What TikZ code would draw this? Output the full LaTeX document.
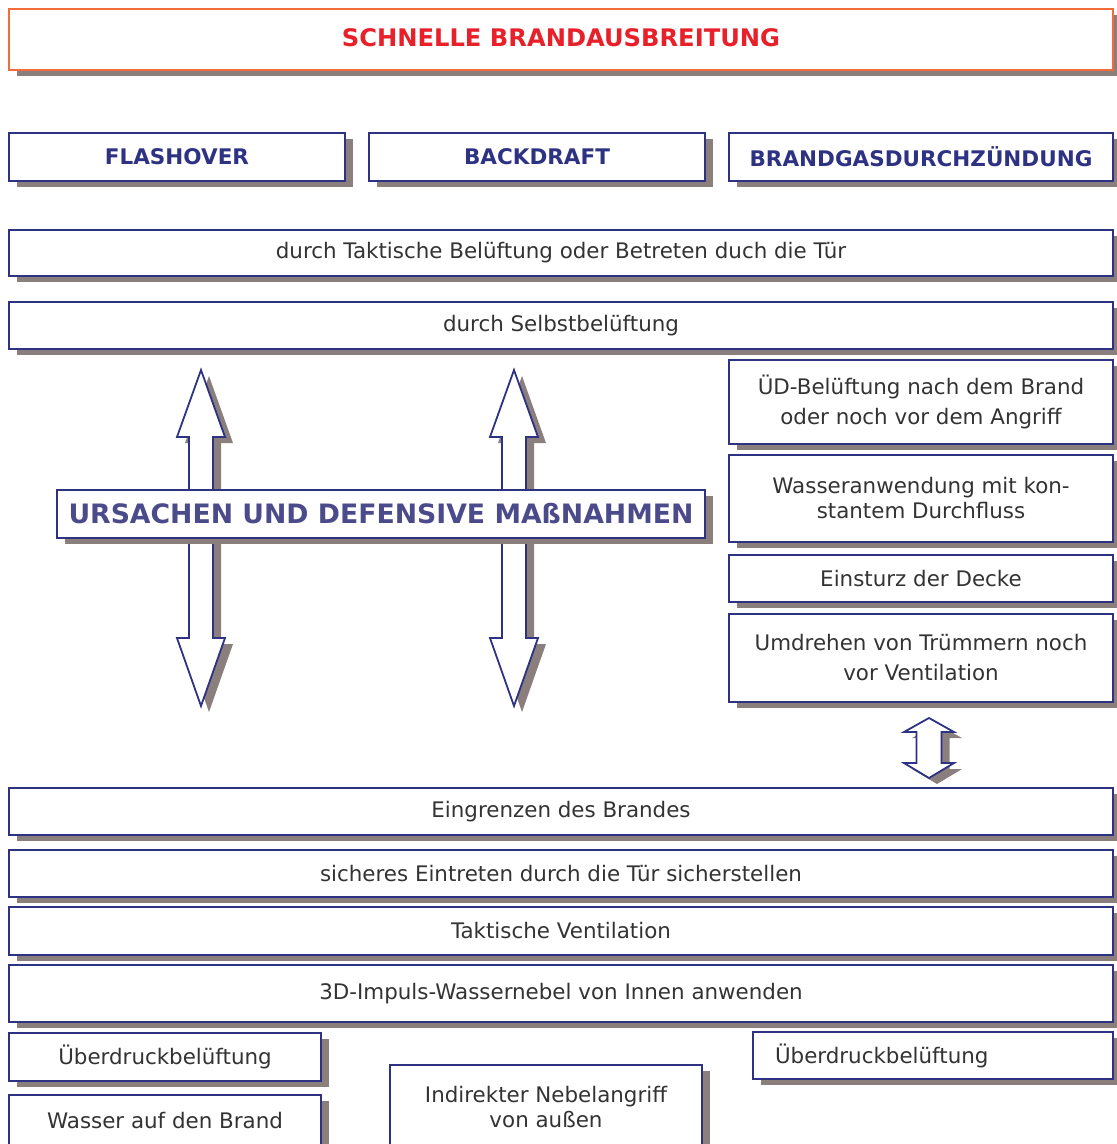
\documentclass[tikz,border=0pt]{standalone}
\usepackage{fontspec}
\setmainfont{DejaVu Sans}
\usetikzlibrary{shadows}
\definecolor{navy}{HTML}{2E3283}
\definecolor{orangeb}{HTML}{F26B3A}
\definecolor{redt}{HTML}{E8202A}
\definecolor{shc}{HTML}{8A7F7D}
\definecolor{txt}{HTML}{333333}
\definecolor{purp}{HTML}{4B4B8C}
\tikzset{
  shad/.style={drop shadow={shadow xshift=8pt,shadow yshift=-6pt,fill=shc,opacity=1}},
  box/.style={shad,draw=navy,line width=1.8pt,fill=white,rectangle,inner sep=0pt,
    text=txt,align=center,font=\fontsize{21.4}{30}\selectfont},
  headbox/.style={box,font=\bfseries\fontsize{21.5}{24}\selectfont,text=navy},
  arrowshape/.style={shad,draw=navy,line width=1.8pt,fill=white},
}
\newcommand{\twolines}[5]{\raisebox{#1}{\parbox{#5}{\centering\fontsize{21.4}{#2}\selectfont #3\\#4}}}
\begin{document}
\begin{tikzpicture}[x=1pt,y=-1pt]
\useasboundingbox (0,0) rectangle (1117,1144);
\clip (0,0) rectangle (1117,1144);
% title
\node[box,draw=orangeb,minimum width=1104pt,minimum height=61pt,text=redt,
  font=\bfseries\fontsize{24.2}{28}\selectfont] (title) at (561,39.5) {\raisebox{4.5pt}{SCHNELLE BRANDAUSBREITUNG}};
% headings
\node[headbox,minimum width=336pt,minimum height=48pt] (flash) at (177,157) {FLASHOVER};
\node[headbox,minimum width=336pt,minimum height=48pt] (back) at (537,157) {BACKDRAFT};
\node[headbox,minimum width=384pt,minimum height=48pt] (brand) at (921,157) {BRANDGASDURCHZÜNDUNG};
% causes
\node[box,minimum width=1104pt,minimum height=46pt] (tak) at (561,253) {durch Taktische Belüftung oder Betreten duch die Tür};
\node[box,minimum width=1104pt,minimum height=47pt] (selbst) at (561,325.5) {durch Selbstbelüftung};
% right column
\node[box,minimum width=384pt,minimum height=84pt] (ud) at (921,402) {\twolines{3pt}{30}{ÜD-Belüftung nach dem Brand}{oder noch vor dem Angriff}{370pt}};
\node[box,minimum width=384pt,minimum height=87pt] (wasser) at (921,498.5) {\twolines{7pt}{25}{Wasseranwendung mit kon-}{stantem Durchfluss}{370pt}};
\node[box,minimum width=384pt,minimum height=47pt] (einst) at (921,578.5) {Einsturz der Decke};
\node[box,minimum width=384pt,minimum height=88pt] (umdr) at (921,658) {\twolines{2pt}{30}{Umdrehen von Trümmern noch}{vor Ventilation}{370pt}};
% big arrows
\draw[arrowshape] (201,370) -- (225,437) -- (213,437) -- (213,638) -- (225,638) -- (201,706)
  -- (177,638) -- (189,638) -- (189,437) -- (177,437) -- cycle;
\draw[arrowshape] (514,370) -- (538,437) -- (526,437) -- (526,638) -- (538,638) -- (514,706)
  -- (490,638) -- (502,638) -- (502,437) -- (490,437) -- cycle;
% central label
\node[box,minimum width=648pt,minimum height=48pt,text=purp,
  font=\bfseries\fontsize{26.7}{30}\selectfont] (urs) at (381,514) {URSACHEN UND DEFENSIVE MAßNAHMEN};
% small double arrow
\draw[arrowshape] (929,718) -- (954,732) -- (941.5,732) -- (941.5,763) -- (954,763) -- (929,778)
  -- (904,763) -- (916.5,763) -- (916.5,732) -- (904,732) -- cycle;
% measures
\node[box,minimum width=1104pt,minimum height=47pt] (eing) at (561,811.5) {Eingrenzen des Brandes};
\node[box,minimum width=1104pt,minimum height=47pt] (sicher) at (561,873.5) {sicheres Eintreten durch die Tür sicherstellen};
\node[box,minimum width=1104pt,minimum height=48pt] (taktv) at (561,931) {Taktische Ventilation};
\node[box,minimum width=1104pt,minimum height=57pt] (impuls) at (561,993.5) {\raisebox{4.5pt}{3D-Impuls-Wassernebel von Innen anwenden}};
% bottom
\node[box,minimum width=312pt,minimum height=48pt] (ud1) at (165,1057) {Überdruckbelüftung};
\node[box,minimum width=312pt,minimum height=55pt] (wab) at (165,1122.5) {\raisebox{3.5pt}{Wasser auf den Brand}};
\node[box,minimum width=312pt,minimum height=85pt] (indir) at (546,1107.5) {\twolines{5pt}{25}{Indirekter Nebelangriff}{von außen}{290pt}};
\node[box,minimum width=360pt,minimum height=47pt,align=left,text width=316pt,inner xsep=22pt] (ud2) at (933,1055.5) {Überdruckbelüftung};
\end{tikzpicture}
\end{document}
